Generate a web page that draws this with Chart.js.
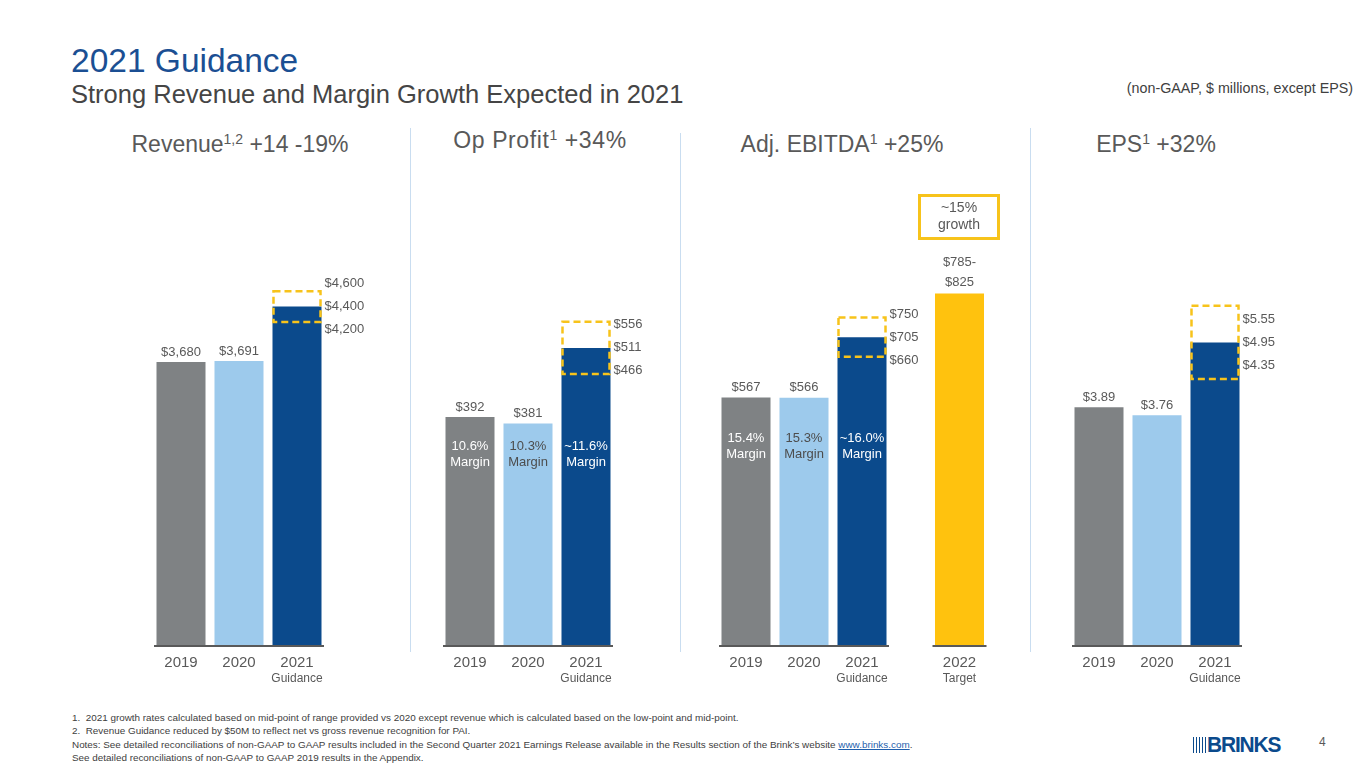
<!DOCTYPE html>
<html>
<head>
<meta charset="utf-8">
<script src="https://cdn.jsdelivr.net/npm/chart.js@4.4.0/dist/chart.umd.min.js"></script>
<style>
  html, body { margin: 0; padding: 0; background: #fff; }
  body { width: 1365px; height: 768px; position: relative; overflow: hidden; font-family: "Liberation Sans", Arial, sans-serif; color: #595959; }
  .abs { position: absolute; white-space: nowrap; }
  canvas.panel { position: absolute; top: 130px; }
  .title { left: 71px; top: 42px; font-size: 33.5px; color: #1B4F93; }
  .subtitle { left: 71px; top: 80px; font-size: 25.5px; color: #454545; }
  .units { right: 12px; top: 80px; font-size: 14.3px; color: #404040; }
  .ptitle { top: 130px; font-size: 23px; color: #595959; transform: translateX(-50%); }
  .ptitle sup { font-size: 14px; vertical-align: 8px; line-height: 0; }
  .divider { width: 1px; background: #C9DDF0; }
  .growth { left: 918px; top: 194px; width: 76px; height: 38px; border: 3px solid #F7C31B; text-align: center; font-size: 14px; line-height: 17px; color: #595959; padding-top: 2px; }
  .foot { left: 72px; font-size: 9.9px; color: #404040; }
  .foot a { color: #1F5FAD; text-decoration: underline; }
  .logo { left: 1193px; top: 735px; height: 19px; }
  .stripes { position: absolute; left: 0; top: 2px; width: 14px; height: 16px; background: repeating-linear-gradient(90deg, #0B4A8C 0 1.5px, transparent 1.5px 3px); }
  .brand { position: absolute; left: 14px; top: -3px; font-size: 22px; font-weight: bold; color: #0B4A8C; letter-spacing: -1.2px; transform: scaleX(0.95); transform-origin: left; }
  .page { left: 1319px; top: 735px; font-size: 12px; color: #595959; }
</style>
</head>
<body>
<div class="abs title">2021 Guidance</div>
<div class="abs subtitle">Strong Revenue and Margin Growth Expected in 2021</div>
<div class="abs units">(non-GAAP, $ millions, except EPS)</div>

<div class="abs ptitle" style="left:240px; top:131px;">Revenue<sup>1,2</sup> +14 -19%</div>
<div class="abs ptitle" style="left:540px; top:127px; letter-spacing:0.6px;">Op Profit<sup>1</sup> +34%</div>
<div class="abs ptitle" style="left:842px; top:131px;">Adj. EBITDA<sup>1</sup> +25%</div>
<div class="abs ptitle" style="left:1156px; top:131px;">EPS<sup>1</sup> +32%</div>

<div class="abs divider" style="left:410px; top:128px; height:524px;"></div>
<div class="abs divider" style="left:680px; top:133px; height:519px;"></div>
<div class="abs divider" style="left:1030px; top:128px; height:524px;"></div>

<canvas id="revChart" class="panel" style="left:140px;" width="240" height="560"></canvas>
<canvas id="opChart" class="panel" style="left:429px;" width="240" height="560"></canvas>
<canvas id="ebitdaChart" class="panel" style="left:705px;" width="220" height="560"></canvas>
<canvas id="targetChart" class="panel" style="left:925px;" width="70" height="560"></canvas>
<canvas id="epsChart" class="panel" style="left:1058px;" width="240" height="560"></canvas>

<div class="abs growth">~15%<br>growth</div>

<div class="abs foot" style="top:712px;">1.&nbsp; 2021 growth rates calculated based on mid-point of range provided vs 2020 except revenue which is calculated based on the low-point and mid-point.</div>
<div class="abs foot" style="top:725px;">2.&nbsp; Revenue Guidance reduced by $50M to reflect net vs gross revenue recognition for PAI.</div>
<div class="abs foot" style="top:739px;">Notes: See detailed reconciliations of non-GAAP to GAAP results included in the Second Quarter 2021 Earnings Release available in the Results section of the Brink’s website <a>www.brinks.com</a>.</div>
<div class="abs foot" style="top:752px;">See detailed reconciliations of non-GAAP to GAAP 2019 results in the Appendix.</div>

<div class="abs logo"><div class="stripes"></div><div class="brand">BRINKS</div></div>
<div class="abs page">4</div>

<script>
// values
const years = ['2019', '2020', '2021'];
const yearNotes = ['', '', 'Guidance'];

const revenue = [3680, 3691, 4400];
const revenueRange = [4200, 4600];

const opProfit = [392, 381, 511];
const opProfitRange = [466, 556];
const opMargins = ['10.6%', '10.3%', '~11.6%'];

const ebitda = [567, 566, 705];
const ebitdaRange = [660, 750];
const ebitdaMargins = ['15.4%', '15.3%', '~16.0%'];

const targetYears = ['2022'];
const targetNotes = ['Target'];
const ebitdaTarget = [805];
const ebitdaTargetRange = [785, 825];

const eps = [3.89, 3.76, 4.95];
const epsRange = [4.35, 5.55];

const GRAY = '#7F8284';
const LIGHT = '#9DCAEC';
const NAVY = '#0B4A8C';
const GOLD = '#FFC20E';
const DASH = '#F7C31B';
const TEXT = '#595959';
const FONT = '"Liberation Sans", Arial, sans-serif';

const fmtThousands = v => '$' + Number(v).toLocaleString('en-US');
const fmtInt = v => '$' + v;
const fmtEps = v => '$' + Number(v).toFixed(2);

// labels, baseline and dashed guidance box for one panel
function labelPlugin(o) {
  return {
    id: 'slideLabels',
    afterDatasetsDraw(chart) {
      const ctx = chart.ctx;
      const area = chart.chartArea;
      const x = chart.scales.x;
      const y = chart.scales.y;
      const bars = chart.getDatasetMeta(0).data;
      ctx.save();

      // baseline
      ctx.strokeStyle = TEXT;
      ctx.lineWidth = 2;
      ctx.beginPath();
      ctx.moveTo(area.left + 2, area.bottom + 1);
      ctx.lineTo(area.right - 2, area.bottom + 1);
      ctx.stroke();

      // dashed range box
      if (o.range) {
        const box = chart.getDatasetMeta(1).data[o.rangeIndex];
        const left = box.x - box.width / 2;
        ctx.setLineDash([7, 4]);
        ctx.lineWidth = 2.5;
        ctx.strokeStyle = DASH;
        ctx.strokeRect(left + 1, box.y, box.width - 2, box.base - box.y);
        ctx.setLineDash([]);

        // range labels beside the box
        const mid = y.getPixelForValue(o.values[o.rangeIndex]);
        const rx = left + box.width + 3;
        ctx.font = '13px ' + FONT;
        ctx.fillStyle = TEXT;
        ctx.textAlign = 'left';
        ctx.textBaseline = 'middle';
        ctx.fillText(o.fmt(o.range[1]), rx, mid - 23);
        ctx.fillText(o.fmt(o.values[o.rangeIndex]), rx, mid);
        ctx.fillText(o.fmt(o.range[0]), rx, mid + 23);
      }

      ctx.font = '13px ' + FONT;
      ctx.textAlign = 'center';
      ctx.textBaseline = 'middle';
      bars.forEach((bar, i) => {
        ctx.fillStyle = TEXT;
        if (o.topLines) {
          ctx.fillText(o.topLines[0], bar.x, bar.y - 31);
          ctx.fillText(o.topLines[1], bar.x, bar.y - 11);
        } else if (i !== o.rangeIndex) {
          ctx.fillText(o.fmt(o.values[i]), bar.x, bar.y - 10);
        }
        if (o.margins) {
          ctx.fillStyle = i === 1 ? '#4D4D4D' : '#FFFFFF';
          const my = area.bottom - o.marginLift;
          ctx.fillText(o.margins[i], bar.x, my - 8);
          ctx.fillText('Margin', bar.x, my + 8);
        }
      });

      // category labels below the axis
      chart.data.labels.forEach((lab, i) => {
        const cx = x.getPixelForValue(i);
        ctx.fillStyle = TEXT;
        ctx.font = '15px ' + FONT;
        ctx.fillText(lab, cx, area.bottom + 18);
        if (o.notes[i]) {
          ctx.font = '12px ' + FONT;
          ctx.fillText(o.notes[i], cx, area.bottom + 34);
        }
      });
      ctx.restore();
    }
  };
}

function makePanel(id, cfg) {
  const datasets = [{
    data: cfg.values,
    backgroundColor: cfg.colors,
    borderWidth: 0,
    grouped: false,
    barPercentage: 0.845,
    categoryPercentage: 1
  }];
  if (cfg.range) {
    datasets.push({
      data: cfg.values.map((v, i) => i === cfg.rangeIndex ? cfg.range : null),
      backgroundColor: 'rgba(0,0,0,0)',
      borderWidth: 0,
      grouped: false,
      barPercentage: 0.845,
      categoryPercentage: 1
    });
  }
  return new Chart(document.getElementById(id), {
    type: 'bar',
    data: { labels: cfg.labels, datasets: datasets },
    options: {
      responsive: false,
      animation: false,
      events: [],
      layout: { padding: { top: 15, bottom: 45, left: cfg.padLeft, right: cfg.padRight } },
      scales: {
        x: { display: false },
        y: { display: false, min: 0, max: cfg.max }
      },
      plugins: {
        legend: { display: false },
        tooltip: { enabled: false }
      }
    },
    plugins: [labelPlugin(cfg)]
  });
}

const threeColors = [GRAY, LIGHT, NAVY];

makePanel('revChart', {
  labels: years, notes: yearNotes, values: revenue, colors: threeColors,
  range: revenueRange, rangeIndex: 2, fmt: fmtThousands,
  max: 6500, padLeft: 12, padRight: 54
});
makePanel('opChart', {
  labels: years, notes: yearNotes, values: opProfit, colors: threeColors,
  range: opProfitRange, rangeIndex: 2, fmt: fmtInt,
  margins: opMargins, marginLift: 191,
  max: 860, padLeft: 12, padRight: 54
});
makePanel('ebitdaChart', {
  labels: years, notes: yearNotes, values: ebitda, colors: threeColors,
  range: ebitdaRange, rangeIndex: 2, fmt: fmtInt,
  margins: ebitdaMargins, marginLift: 199,
  max: 1145, padLeft: 12, padRight: 34
});
makePanel('targetChart', {
  labels: targetYears, notes: targetNotes, values: ebitdaTarget, colors: [GOLD],
  fmt: fmtInt, rangeIndex: -1,
  topLines: ['$' + ebitdaTargetRange[0] + '-', '$' + ebitdaTargetRange[1]],
  max: 1145, padLeft: 5.5, padRight: 6.5
});
makePanel('epsChart', {
  labels: years, notes: yearNotes, values: eps, colors: threeColors,
  range: epsRange, rangeIndex: 2, fmt: fmtEps,
  max: 8.18, padLeft: 12, padRight: 54
});
</script>
</body>
</html>
